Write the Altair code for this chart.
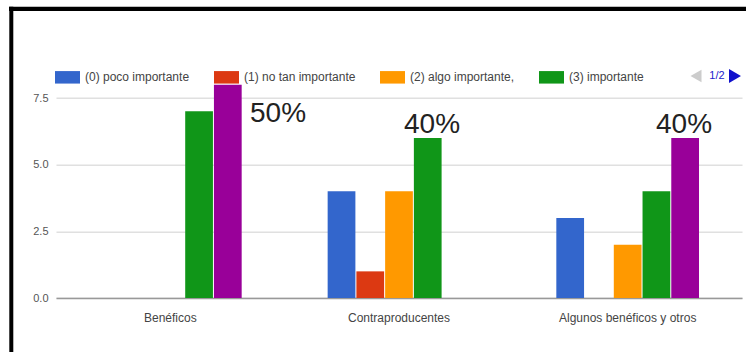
import altair as alt
import pandas as pd

categories = ["Benéficos", "Contraproducentes", "Algunos benéficos y otros"]
series = ["(0) poco importante", "(1) no tan importante", "(2) algo importante,", "(3) importante", "(4) muy importante"]
colors = ["#3366cc", "#dc3912", "#ff9900", "#109618", "#990099"]
values = {
    "(0) poco importante": [0, 4, 3],
    "(1) no tan importante": [0, 1, 0],
    "(2) algo importante,": [0, 4, 2],
    "(3) importante": [7, 6, 4],
    "(4) muy importante": [8, 0, 6],
}
annotations = ["50%", "40%", "40%"]
y_ticks = [0, 2.5, 5, 7.5]

rows = []
for s in series:
    for c, v in zip(categories, values[s]):
        rows.append({"categoria": c, "serie": s, "valor": v})
df = pd.DataFrame(rows)

W, H = 686, 213.33
PL, PT = 56, 84.7

bars = alt.Chart(df).mark_bar().encode(
    x=alt.X("categoria:N", sort=categories, title=None,
            scale=alt.Scale(paddingInner=0.376, paddingOuter=0.188),
            axis=alt.Axis(labelAngle=0, ticks=False, labelPadding=14, labelFontSize=12,
                          labelColor="#444", domainColor="#999", domainWidth=1.5, labelLimit=300)),
    xOffset=alt.XOffset("serie:N", sort=series, scale=alt.Scale(paddingInner=0.035)),
    y=alt.Y("valor:Q", title=None, scale=alt.Scale(domain=[0, 8], nice=False),
            axis=alt.Axis(values=y_ticks, format=".1f", ticks=False, domain=False, labelPadding=8,
                          labelFontSize=11, labelColor="#555", gridColor="#e0e0e0", gridWidth=1.5)),
    color=alt.Color("serie:N", sort=series, scale=alt.Scale(domain=series, range=colors),
                    legend=alt.Legend(title=None, orient="none", legendX=-1, legendY=-20,
                                      direction="horizontal", columns=4, values=series[:4],
                                      symbolType="M-1,-0.5H1V0.5H-1Z", symbolSize=625,
                                      symbolStrokeWidth=0, labelFontSize=12, labelColor="#444",
                                      labelOffset=5, columnPadding=24, padding=0, labelLimit=300)),
)

def ann(txt, x, y):
    return alt.Chart(pd.DataFrame({"t": [txt]})).mark_text(
        fontSize=28, color="#222", align="center", baseline="alphabetic", font="Liberation Sans"
    ).encode(text="t:N", x=alt.value(x), y=alt.value(y))

a1 = ann(annotations[0], 278 - PL, 122 - PT)
a2 = ann(annotations[1], 432 - PL, 133 - PT)
a3 = ann(annotations[2], 684 - PL, 133 - PT)

pager = alt.Chart(pd.DataFrame({"t": ["1/2"]})).mark_text(
    fontSize=11, color="#2222cc", align="center", baseline="middle"
).encode(text="t:N", x=alt.value(717 - PL), y=alt.value(76 - PT))

tri_l = alt.Chart(pd.DataFrame({"t": ["prev"]})).mark_point(
    shape="triangle-left", filled=True, color="#cccccc", size=160, opacity=1
).encode(x=alt.value(696 - PL), y=alt.value(76 - PT))
tri_r = alt.Chart(pd.DataFrame({"t": ["next"]})).mark_point(
    shape="triangle-right", filled=True, color="#1111cc", size=190, opacity=1
).encode(x=alt.value(735 - PL), y=alt.value(76 - PT))

frame_top = alt.Chart(pd.DataFrame({"t": ["top"]})).mark_rule(color="black", strokeWidth=4.3).encode(
    x=alt.value(9 - PL), x2=alt.value(746 - PL), y=alt.value(8.8 - PT))
frame_left = alt.Chart(pd.DataFrame({"t": ["left"]})).mark_rule(color="black", strokeWidth=4).encode(
    x=alt.value(11.3 - PL), y=alt.value(6.7 - PT), y2=alt.value(352 - PT))

chart = alt.layer(bars, a1, a2, a3, pager, tri_l, tri_r, frame_top, frame_left).properties(
    width=W, height=H,
    autosize=alt.AutoSizeParams(type="none"),
    padding={"left": PL, "top": PT, "right": 746 - PL - W, "bottom": 352 - PT - H},
    background="white",
).configure(font="Liberation Sans").configure_view(stroke=None)

chart.save("out.html", embed_options={"renderer": "svg", "actions": False})
